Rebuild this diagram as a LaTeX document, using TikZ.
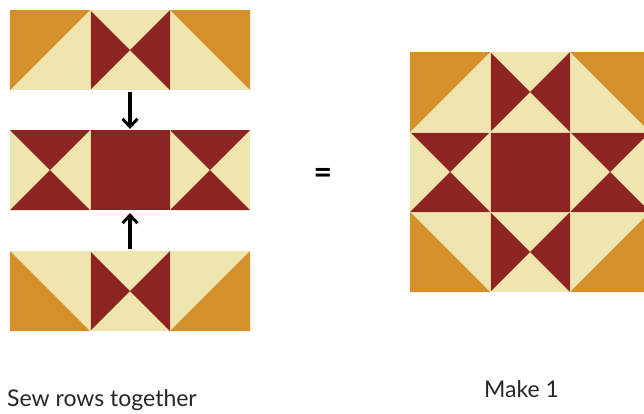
\documentclass[tikz,border=0pt]{standalone}
\usepackage{fontspec}
\setmainfont{Lato}
\usetikzlibrary{arrows.meta}
\definecolor{qorange}{HTML}{D58F2B}
\definecolor{qcream}{HTML}{EFE6AF}
\definecolor{qred}{HTML}{8C2521}
\definecolor{qseam}{HTML}{E9CFA3}
\tikzset{
  x=1pt,y=-1pt,
  seam/.style={draw=qseam,line width=0.5pt},
  hstA/.pic={\fill[qcream] (0,0) rectangle (80,80);
             \fill[qorange] (0,0)--(80,0)--(0,80)--cycle;},
  hstB/.pic={\fill[qcream] (0,0) rectangle (80,80);
             \fill[qorange] (0,0)--(80,0)--(80,80)--cycle;},
  hstC/.pic={\fill[qcream] (0,0) rectangle (80,80);
             \fill[qorange] (0,0)--(0,80)--(80,80)--cycle;},
  hstD/.pic={\fill[qcream] (0,0) rectangle (80,80);
             \fill[qorange] (80,0)--(80,80)--(0,80)--cycle;},
  qstV/.pic={\fill[qcream] (0,0) rectangle (80,80);
             \fill[qred] (0,0)--(40,40)--(0,80)--cycle (80,0)--(40,40)--(80,80)--cycle;},
  qstH/.pic={\fill[qcream] (0,0) rectangle (80,80);
             \fill[qred] (0,0)--(80,0)--(40,40)--cycle (0,80)--(80,80)--(40,40)--cycle;},
  sqR/.pic={\fill[qred] (0,0) rectangle (80,80);},
  arr/.style={-{Straight Barb[length=8pt,width=15pt,line width=3pt]},line width=3.2pt,black},
  lbl/.style={font=\fontsize{23}{26}\selectfont,text=black!85,inner sep=0pt,anchor=base west}
}
\begin{document}
\begin{tikzpicture}
\useasboundingbox (0,0) rectangle (644,413);
\begin{scope}
\clip (0,0) rectangle (644,413);
% left: three separate rows
\pic at (10,10) {hstA}; \pic at (90,10) {qstV}; \pic at (170,10) {hstB};
\pic at (10,130) {qstH}; \pic at (90,130) {sqR}; \pic at (170,130) {qstH};
\pic at (10,251) {hstC}; \pic at (90,251) {qstV}; \pic at (170,251) {hstD};
\foreach \y in {10,130,251}{
  \draw[seam] (90,\y) -- ++(0,80) (170,\y) -- ++(0,80);
}
% right: assembled block
\pic at (410,52) {hstA}; \pic at (490,52) {qstV}; \pic at (570,52) {hstB};
\pic at (410,132) {qstH}; \pic at (490,132) {sqR}; \pic at (570,132) {qstH};
\pic at (410,212) {hstC}; \pic at (490,212) {qstV}; \pic at (570,212) {hstD};
\draw[seam] (490,52) -- ++(0,240) (570,52) -- ++(0,240)
            (410,132) -- ++(240,0) (410,212) -- ++(240,0);
\end{scope}
% arrows
\coordinate (topRow) at (130,92);
\coordinate (midTop) at (130,129);
\coordinate (midBot) at (130,213);
\coordinate (botRow) at (130,249);
\draw[arr] (topRow) -- (midTop);
\draw[arr] (botRow) -- (midBot);
% equals
\node (eq) at (323,176) {\fontsize{32}{32}\selectfont\bfseries =};
% labels
\node[lbl] (sew) at (7,406) {Sew rows together};
\node[lbl] (make) at (484,397) {Make 1};
\end{tikzpicture}
\end{document}
